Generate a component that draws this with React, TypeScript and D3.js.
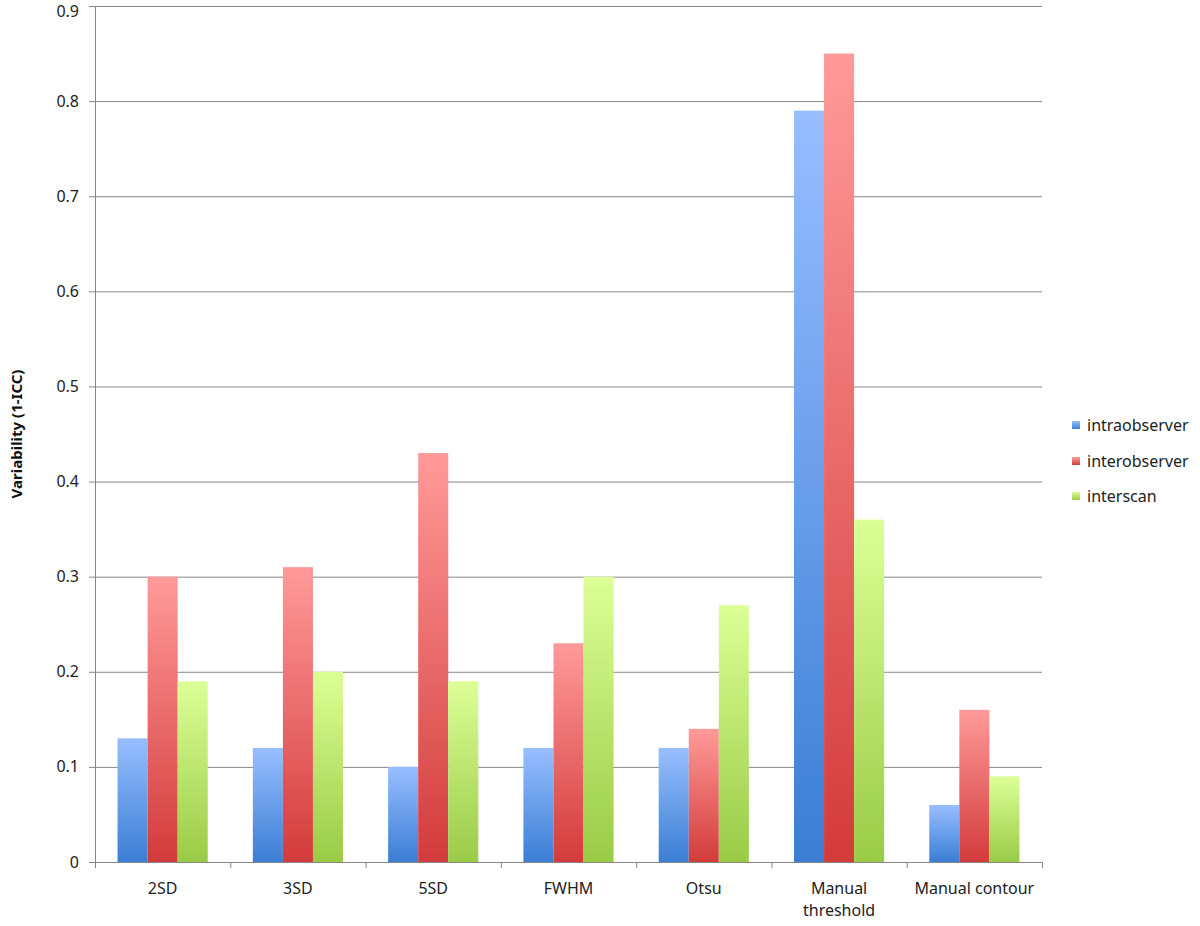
import * as d3 from "d3";

const categories = ["2SD", "3SD", "5SD", "FWHM", "Otsu", "Manual threshold", "Manual contour"];
const seriesNames = ["intraobserver", "interobserver", "interscan"];
const intraobserver = [0.13, 0.12, 0.1, 0.12, 0.12, 0.79, 0.06];
const interobserver = [0.3, 0.31, 0.43, 0.23, 0.14, 0.85, 0.16];
const interscan = [0.19, 0.2, 0.19, 0.3, 0.27, 0.36, 0.09];
const yTicks = [0, 0.1, 0.2, 0.3, 0.4, 0.5, 0.6, 0.7, 0.8, 0.9];

const gradients = [
  { id: "g-intra", top: "#98beff", bottom: "#3b7ed4" },
  { id: "g-inter", top: "#ff9a9a", bottom: "#d33b3b" },
  { id: "g-scan", top: "#dcff96", bottom: "#9acb47" },
];

const W = 1200;
const H = 926;
const left = 95;
const right = 1042;
const top = 6;
const bottom = 862;
const font = "'Noto Sans', 'Open Sans', sans-serif";

export default function App() {
  const values = [intraobserver, interobserver, interscan];
  const x = d3.scaleBand<string>().domain(categories).range([left, right]).paddingInner(0).paddingOuter(0);
  const xInner = d3
    .scaleBand<string>()
    .domain(seriesNames)
    .range([0, x.bandwidth()])
    .paddingInner(0)
    .paddingOuter(0.75);
  const y = d3.scaleLinear().domain([0, 0.9]).range([bottom, top]);
  const gridColor = "#868686";

  return (
    <svg width={W} height={H} style={{ position: "absolute", left: 0, top: 0, background: "#fff" }}>
      <defs>
        {gradients.map((g) => (
          <linearGradient key={g.id} id={g.id} x1="0" y1="0" x2="0" y2="1">
            <stop offset="0%" stopColor={g.top} />
            <stop offset="100%" stopColor={g.bottom} />
          </linearGradient>
        ))}
      </defs>
      <rect width={W} height={H} fill="#fff" />

      {/* gridlines + y ticks */}
      {yTicks.map((t) => (
        <g key={t}>
          <line x1={left - 6} x2={right} y1={y(t) + 0.5} y2={y(t) + 0.5} stroke={gridColor} strokeWidth={1} />
          <text
            x={79}
            y={Math.max(y(t), 11)}
            dy="0.35em"
            textAnchor="end"
            fontFamily={font}
            fontSize={16}
            fill="#222"
          >
            {t === 0 ? "0" : d3.format(".1f")(t)}
          </text>
        </g>
      ))}

      {/* bars */}
      {categories.map((c, i) => (
        <g key={c} transform={`translate(${x(c)},0)`}>
          {seriesNames.map((s, j) => {
            const v = values[j][i];
            return (
              <rect
                key={s}
                x={xInner(s)}
                y={y(v)}
                width={xInner.bandwidth()}
                height={y(0) - y(v)}
                fill={`url(#${gradients[j].id})`}
              />
            );
          })}
        </g>
      ))}

      {/* axes */}
      <line x1={left + 0.5} x2={left + 0.5} y1={top} y2={bottom} stroke={gridColor} strokeWidth={1} />
      <line x1={left} x2={right} y1={bottom + 0.5} y2={bottom + 0.5} stroke={gridColor} strokeWidth={1} />
      {d3.range(categories.length + 1).map((k) => {
        const xx = left + k * x.bandwidth();
        return (
          <line key={k} x1={xx + 0.5} x2={xx + 0.5} y1={bottom} y2={bottom + 6} stroke={gridColor} strokeWidth={1} />
        );
      })}

      {/* x labels */}
      {categories.map((c) => {
        const cx = (x(c) ?? 0) + x.bandwidth() / 2;
        const lines = c === "Manual threshold" ? ["Manual", "threshold"] : [c];
        return (
          <text key={c} x={cx} y={894} textAnchor="middle" fontFamily={font} fontSize={16} fill="#222">
            {lines.map((l, k) => (
              <tspan key={k} x={cx} dy={k === 0 ? 0 : 22}>
                {l}
              </tspan>
            ))}
          </text>
        );
      })}

      {/* y axis title */}
      <text
        transform="translate(22,434) rotate(-90)"
        textAnchor="middle"
        fontFamily={font}
        fontSize={15}
        fontWeight="bold"
        fill="#111"
      >
        Variability (1-ICC)
      </text>

      {/* legend */}
      {seriesNames.map((s, j) => {
        const cy = [425, 461, 496][j];
        return (
          <g key={s}>
            <rect x={1072} y={cy - 4} width={8} height={8} fill={`url(#${gradients[j].id})`} />
            <text x={1087} y={cy} dy="0.35em" fontFamily={font} fontSize={16} fill="#222">
              {s}
            </text>
          </g>
        );
      })}
    </svg>
  );
}
